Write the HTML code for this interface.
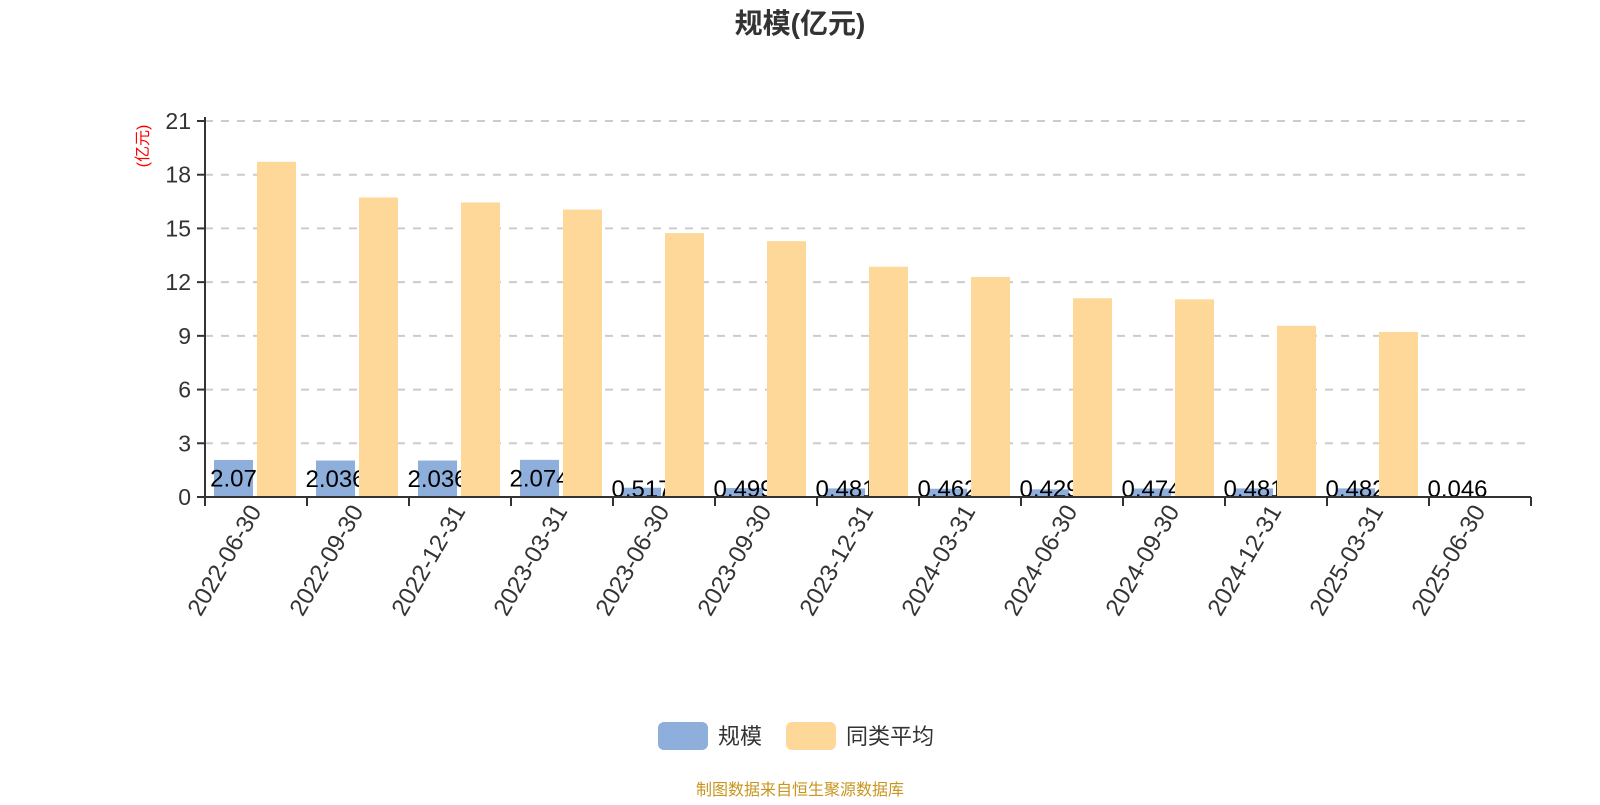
<!DOCTYPE html>
<html><head><meta charset="utf-8"><style>
body{margin:0;background:#fff;width:1600px;height:800px;overflow:hidden;font-family:"Liberation Sans","Noto Sans CJK SC",sans-serif}
</style></head><body>
<svg id="chart" width="1600" height="800" xmlns="http://www.w3.org/2000/svg" font-family="Liberation Sans, Noto Sans CJK SC, sans-serif">
<text x="800" y="33" text-anchor="middle" font-size="28" font-weight="bold" fill="#333">规模(亿元)</text>
<text transform="translate(148,146) rotate(-90)" text-anchor="middle" font-size="16" fill="#f00">(亿元)</text>
<g id="grid"></g><g id="bars"></g><g id="axes"></g>
<g>
<g><rect x="658" y="722" width="50" height="28" rx="6" fill="#8eaedb"/><text x="718" y="744" font-size="22" fill="#333">规模</text></g>
<g><rect x="786" y="722" width="50" height="28" rx="6" fill="#fed899"/><text x="846" y="744" font-size="22" fill="#333">同类平均</text></g>
</g>
<text x="800" y="795" text-anchor="middle" font-size="16" fill="#c8951e">制图数据来自恒生聚源数据库</text>
</svg>
<script>
const categories=["2022-06-30","2022-09-30","2022-12-31","2023-03-31","2023-06-30","2023-09-30","2023-12-31","2024-03-31","2024-06-30","2024-09-30","2024-12-31","2025-03-31","2025-06-30"];
const scaleValues=[2.07,2.036,2.036,2.074,0.517,0.499,0.481,0.462,0.429,0.474,0.481,0.482,0.046];
const scaleLabels=["2.07","2.036","2.036","2.074","0.517","0.499","0.481","0.462","0.429","0.474","0.481","0.482","0.046"];
const avgValues=[18.72,16.73,16.45,16.05,14.74,14.29,12.86,12.29,11.1,11.04,9.56,9.22,null];
const yTicks=[0,3,6,9,12,15,18,21];
const NS="http://www.w3.org/2000/svg";
const X0=205,X1=1531,Y0=497,Y1=121,YMAX=21;
const band=(X1-X0)/categories.length;
const y=v=>Y0-(v/YMAX)*(Y0-Y1);
const xb=i=>X0+i*band;
function mk(tag,attrs,parent,txt){const e=document.createElementNS(NS,tag);for(const k in attrs)e.setAttribute(k,attrs[k]);if(txt!=null)e.textContent=txt;parent.appendChild(e);return e;}
const grid=document.getElementById('grid'),bars=document.getElementById('bars'),axes=document.getElementById('axes');
yTicks.forEach(t=>{
 if(t>0){const g=mk('line',{x1:X0,x2:X1,y1:y(t),y2:y(t),stroke:'#ccc','stroke-width':2,'stroke-dasharray':'8,8'},grid);
 
 }
 const tk=mk('line',{x1:X0-8,x2:X0,y1:y(t),y2:y(t),stroke:'#333','stroke-width':2},axes);
 
 
 const l=mk('text',{x:X0-14,y:y(t)+8,'text-anchor':'end','font-size':23,fill:'#333'},axes,String(t));
 
 
});
const BW=39;
categories.forEach((c,i)=>{
 const bx=xb(i)+9;
 const b=mk('rect',{x:bx,y:y(scaleValues[i]),width:BW,height:Y0-y(scaleValues[i]),fill:'#8eaedb'},bars);
 
 
 const cy=Math.min((y(scaleValues[i])+Y0)/2,489);
 const lb=mk('text',{x:bx+BW/2,y:cy+8,'text-anchor':'middle','font-size':24,fill:'#000'},bars,scaleLabels[i]);
 
 
 if(avgValues[i]!=null){
  const o=mk('rect',{x:bx+BW+4,y:y(avgValues[i]),width:BW,height:Y0-y(avgValues[i]),fill:'#fed899'},bars);
  
  
 }
});
const ya=mk('line',{x1:X0,x2:X0,y1:Y1-4,y2:Y0,stroke:'#333','stroke-width':2},axes);


const xa=mk('line',{x1:X0,x2:X1,y1:Y0,y2:Y0,stroke:'#333','stroke-width':2},axes);


for(let i=0;i<=categories.length;i++){
 const t=mk('line',{x1:xb(i),x2:xb(i),y1:Y0,y2:Y0+9,stroke:'#333','stroke-width':2},axes);
 
 
}
categories.forEach((c,i)=>{
 const cx=xb(i)+band/2,cy=Y0+14;
 const l=mk('text',{transform:`translate(${cx+6},${cy}) rotate(-60)`,'text-anchor':'end','font-size':24,fill:'#333'},axes,c);
 
 
});
</script>
</body></html>
